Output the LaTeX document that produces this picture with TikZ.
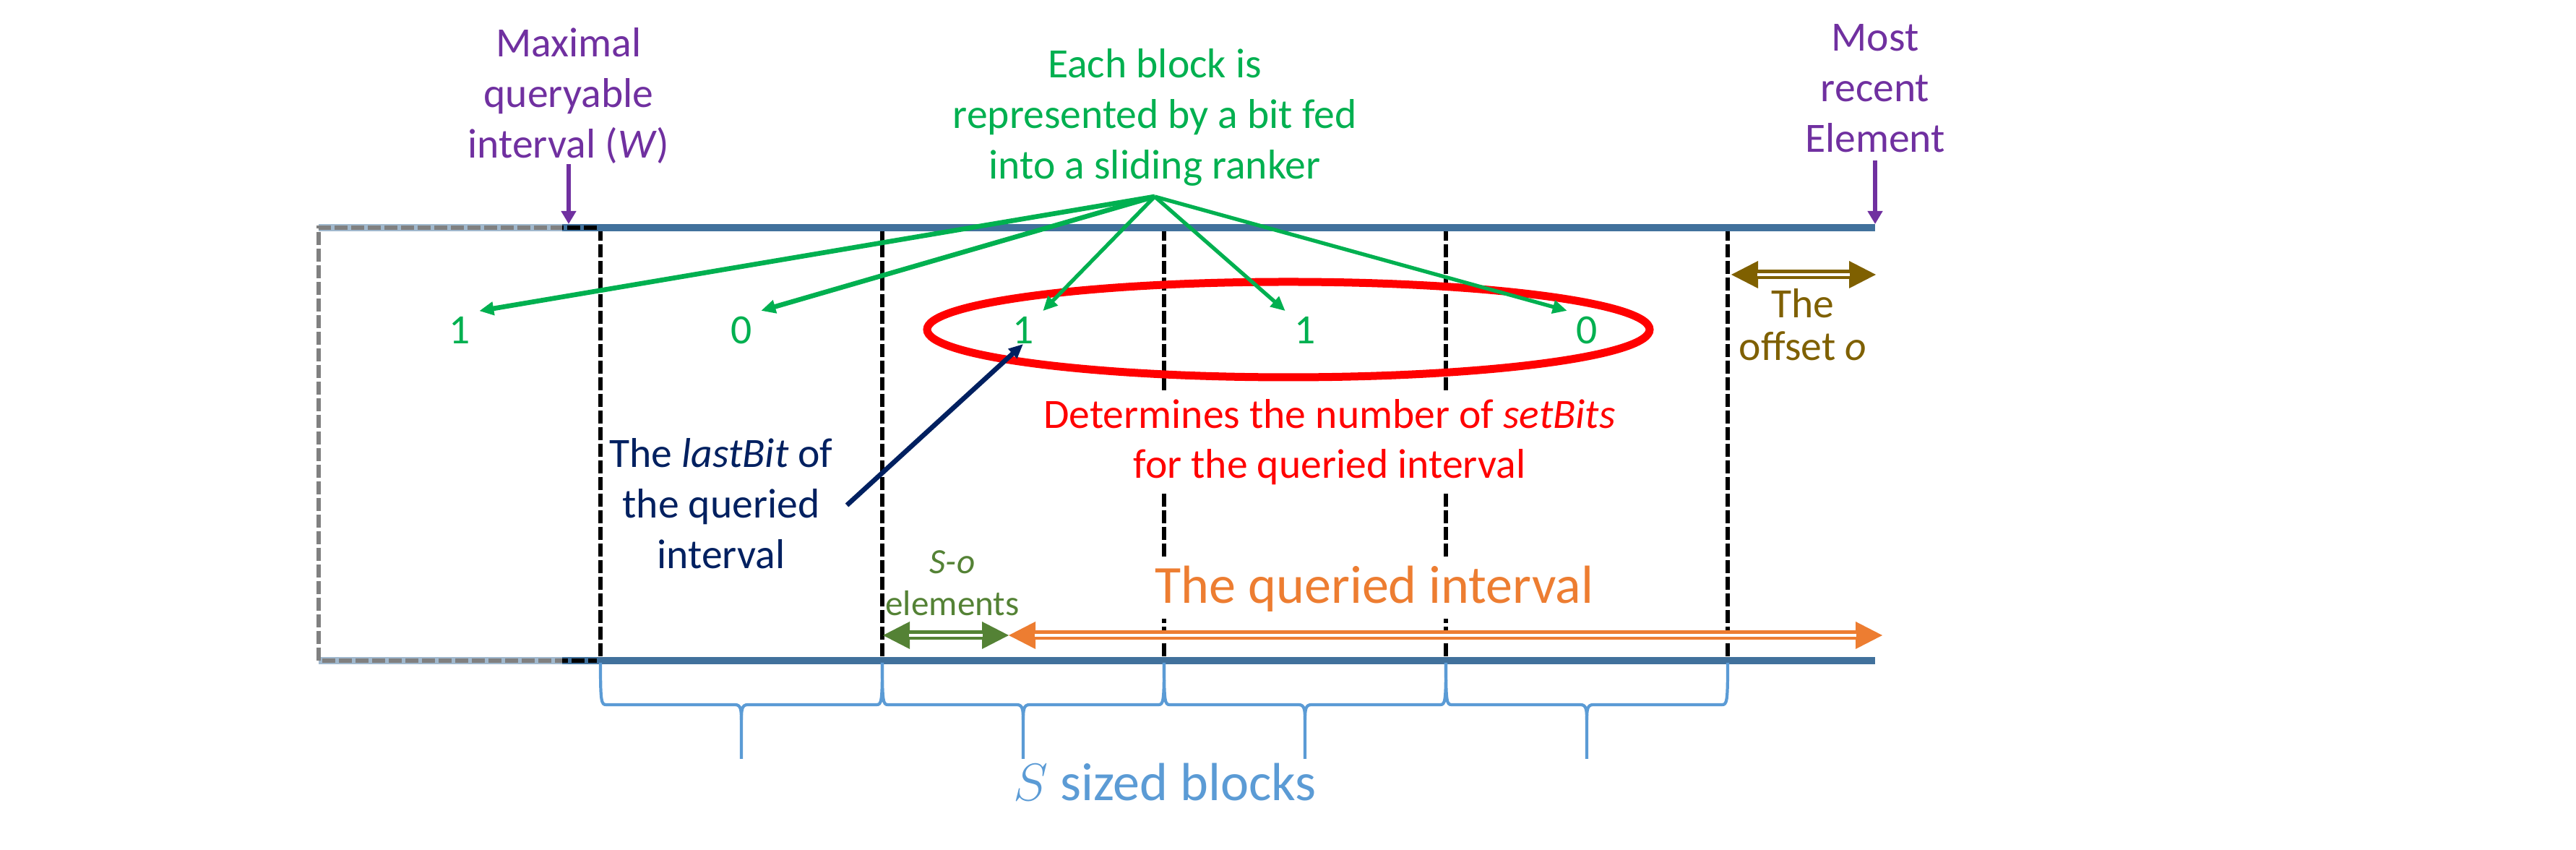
\documentclass[tikz,border=0pt]{standalone}
\usepackage{fontspec}
\setmainfont{Carlito}
\usetikzlibrary{arrows.meta,positioning}
\definecolor{lnblue}{HTML}{41719C}
\definecolor{brblue}{HTML}{5B9BD5}
\definecolor{purp}{HTML}{7030A0}
\definecolor{bgreen}{HTML}{00B050}
\definecolor{navy}{HTML}{002060}
\definecolor{oliv}{HTML}{548235}
\definecolor{orng}{HTML}{ED7D31}
\definecolor{brwn}{HTML}{7F6000}
\begin{document}
\begin{tikzpicture}[
  lbl/.style={align=center, inner sep=0pt, font=\fontsize{16.4}{19.9}\selectfont},
  bit/.style={text=bgreen, inner xsep=0.12cm, inner ysep=0.08cm, font=\fontsize{16.4}{19.9}\selectfont},
  ln/.style={lnblue, line width=0.1cm},
  vdash/.style={black, line width=0.055cm, dash pattern=on 0.18cm off 0.05cm},
  fan/.style={bgreen, line width=1.5pt, -{Triangle[length=0.2cm,width=0.18cm]}},
  parr/.style={purp, line width=1.7pt, -{Triangle[length=0.18cm,width=0.2cm]}},
  dbl/.style={draw=#1, line width=0.13cm,
    {Triangle[length=0.37cm,width=0.38cm,line width=0pt]}-{Triangle[length=0.37cm,width=0.38cm,line width=0pt]},
    postaction={draw=white, line width=0.045cm, arrows=-, shorten <=0.36cm, shorten >=0.36cm}},
  brc/.style={brblue, line width=1.2pt}
]
\useasboundingbox (0,0) rectangle (35.65,11.76);
% block borders
\foreach \x in {8.31,12.21,16.11,20.01,23.91}
  \draw[vdash] (\x,8.61) -- (\x,2.62);
\draw[ln] (4.41,8.61) -- (25.95,8.61);
\draw[ln] (4.41,2.62) -- (25.95,2.62);
\draw[vdash] (8.26,8.61) -- (4.41,8.61) -- (4.41,2.62) -- (8.26,2.62);
\fill[white, opacity=0.5] (4.33,8.72) rectangle (7.78,2.51);
% braces under the blocks
\foreach \p/\q in {8.31/12.21, 12.21/16.11, 16.11/20.01, 20.01/23.91}{
  \pgfmathsetmacro\m{(\p+\q)/2}
  \draw[brc] (\p,2.59) .. controls (\p,2.05) and (\p+0.01,2.01) .. (\p+0.08,2.01)
    -- (\m-0.09,2.01) .. controls (\m-0.01,2.01) and (\m,1.95) .. (\m,1.80) -- (\m,1.26);
  \draw[brc] (\q,2.59) .. controls (\q,2.05) and (\q-0.01,2.01) .. (\q-0.08,2.01)
    -- (\m+0.09,2.01) .. controls (\m+0.01,2.01) and (\m,1.95) .. (\m,1.80);
}
% labels
\node[lbl, text=purp, anchor=south] (maxw) at (7.87,9.49) {Maximal\\queryable\\interval (\textit{W})};
\node[lbl, text=purp, anchor=south, inner ysep=0.1cm] (most) at (25.95,9.54) {Most\\recent\\Element};
\node[lbl, text=bgreen, anchor=south] (blk) at (15.98,9.18) {Each block is\\represented by a bit fed\\into a sliding ranker};
\node[lbl, text=navy, anchor=south] (lb) at (9.98,3.88) {The \textit{lastBit} of\\the queried\\interval};
\node[lbl, text=red, fill=white, inner xsep=0.1cm, inner ysep=0.12cm, anchor=south] (det) at (18.40,4.92) {Determines the number of \textit{setBits}\\for the queried interval};
\node[lbl, text=orng, fill=white, inner xsep=0.1cm, inner ysep=0.1cm, anchor=south, font=\fontsize{21.1}{25.7}\selectfont] (qi) at (19.02,3.19) {The queried interval};
\node[lbl, text=oliv, anchor=south, font=\fontsize{14}{16.5}\selectfont] (so) at (13.18,3.23) {\textit{S-o}\\elements};
\node[lbl, text=brwn, anchor=south, font=\fontsize{16.4}{17}\selectfont] (off) at (24.95,6.76) {The\\offset \textit{o}};
\node[lbl, text=brblue, anchor=south, font=\fontsize{21.1}{25.7}\selectfont] (sb) at (16.12,0.67) {$S$ sized blocks};
% the bits
\foreach \x/\v/\n in {6.36/1/d1, 10.26/0/d2, 14.16/1/d3, 18.06/1/d4, 21.96/0/d5}
  \node[bit, anchor=base] (\n) at (\x,7.00) {\v};
\draw[red, line width=0.11cm] (17.83,7.20) ellipse (5.00 and 0.66);
\coordinate[below=0.14cm of blk.south] (fan);
\coordinate (wl) at (7.87,8.66);
\coordinate (me) at (25.95,8.66);
\coordinate (lbs) at (11.72,4.77);
\draw[parr] (maxw) -- (wl);
\draw[parr] (most) -- (me);
\draw[fan, line width=1.9pt] (fan) -- (d1.north east);
\draw[fan, line width=1.9pt] (fan) -- (d2.north east);
\draw[fan] (fan) -- (d3.north east);
\draw[fan] (fan) -- (d4.north west);
\draw[fan] (fan) -- (d5.north west);
\draw[navy, line width=1.9pt, -{Triangle[length=0.2cm,width=0.17cm]}] (lbs) -- (d3.base);
% intervals
\coordinate (so1) at (12.22,2.97);
\coordinate (so2) at (13.96,2.97);
\coordinate (qi2) at (26.05,2.97);
\coordinate (of1) at (23.96,7.96);
\coordinate (of2) at (25.96,7.96);
\draw[dbl=oliv] (so1) -- (so2);
\draw[dbl=orng] (so2) -- (qi2);
\draw[dbl=brwn] (of1) -- (of2);
\end{tikzpicture}
\end{document}
